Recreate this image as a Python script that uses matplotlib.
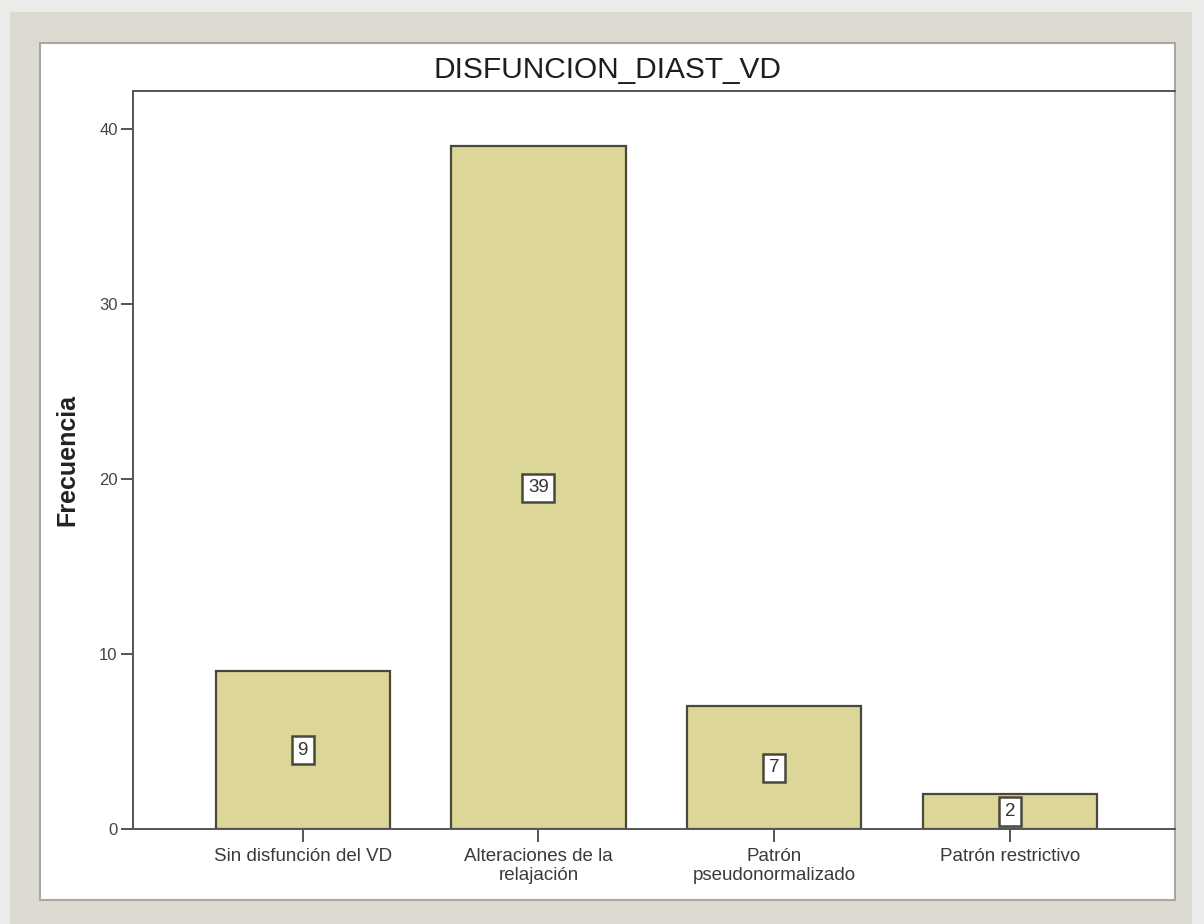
import matplotlib
matplotlib.use("Agg")
import matplotlib.pyplot as plt
from matplotlib.patches import Rectangle

plt.rcParams['font.family'] = ['Liberation Sans', 'DejaVu Sans']

categories = ["Sin disfunción del VD", "Alteraciones de la\nrelajación",
              "Patrón\npseudonormalizado", "Patrón restrictivo"]
counts = [9, 39, 7, 2]
y_ticks = [0, 10, 20, 30, 40]
title = "DISFUNCION_DIAST_VD"
y_label = "Frecuencia"

W, H = 1204, 924
fig = plt.figure(figsize=(W / 100, H / 100), dpi=100)
fig.patch.set_facecolor("#ebebea")

# beige frame and white panel behind the axes
fig.patches.append(Rectangle((10 / W, 0), (1192 - 10) / W, (924 - 12) / H,
                             transform=fig.transFigure, facecolor="#dddbd1",
                             edgecolor="none", zorder=-10))
fig.patches.append(Rectangle((40 / W, 1 - 900 / H), (1175 - 40) / W, (900 - 43) / H,
                             transform=fig.transFigure, facecolor="white",
                             edgecolor="#a8a8a2", linewidth=1.5, zorder=-9))

ax = fig.add_axes([133 / W, 1 - 829 / H, (1175 - 133) / W, (829 - 91) / H])
ax.set_zorder(1)
ax.set_facecolor("none")

x = list(range(len(categories)))
bars = ax.bar(x, counts, width=0.74, color="#ddd699", edgecolor="#4a4838",
              linewidth=1.6, zorder=2)

for xi, v in zip(x, counts):
    ax.text(xi, v / 2, str(v), ha="center", va="center", fontsize=13.5,
            color="#333333", zorder=3,
            bbox=dict(boxstyle="square,pad=0.3", facecolor="white",
                      edgecolor="#4a4838", linewidth=1.8))

ax.set_xlim(-0.72, 3.70)
ax.set_ylim(0, 42.17)
ax.set_yticks(y_ticks)
ax.set_yticklabels([str(t) for t in y_ticks], fontsize=12, color="#444444")
ax.set_xticks(x)
ax.set_xticklabels(categories, fontsize=13.5, color="#3a3a3a", linespacing=1.15)
ax.tick_params(axis="y", direction="out", length=9, width=1.4, color="#555555", pad=2)
ax.tick_params(axis="x", direction="out", length=9, width=1.4, color="#555555", pad=5)

for s in ["left", "top", "bottom"]:
    ax.spines[s].set_color("#555555")
    ax.spines[s].set_linewidth(1.4)
ax.spines["right"].set_visible(False)

ax.set_ylabel(y_label, fontsize=18, fontweight="bold", color="#222222", labelpad=14)

fig.text(608 / W, 1 - 70 / H, title, ha="center", va="center", fontsize=21.5,
         color="#1e1e1e")

fig.savefig("out.png", dpi=100)
